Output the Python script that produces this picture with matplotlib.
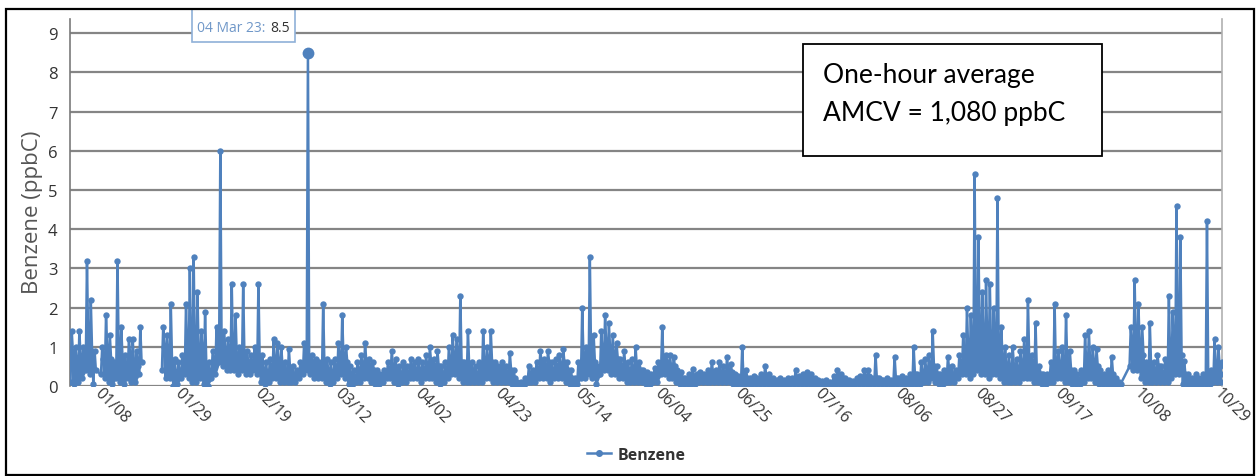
import matplotlib.pyplot as plt
import matplotlib.patches as patches
import numpy as np
import pandas as pd

plt.rcParams['font.family'] = ['Open Sans', 'DejaVu Sans']

# Hourly benzene (ppbC), summarised per day:
# lowest reading, top of the dense band of usual readings, and the day's highest reading.
# None = no data that day.
start_date = '2023-01-01'
daily_low = [
    0.1, 0.05, 0.1, 0.2, 0.4, 0.3, 0.05,
    None, 0.3, 0.2, 0.1, 0.05, 0.2, 0.1,
    0.05, 0.2, 0.1, 0.1, 0.3, None, None,
    None, None, None, 0.4, 0.2, 0.2, 0.0,
    0.05, 0.2, 0.3, 0.2, 0.1, 0.1, 0.2,
    0.05, 0.0, 0.2, 0.3, 0.6, 0.5, 0.4,
    0.4, 0.4, 0.3, 0.4, 0.3, 0.3, 0.4,
    0.3, 0.1, 0.05, 0.1, 0.2, 0.2, 0.1,
    0.1, 0.1, 0.1, 0.1, 0.2, 0.3, 0.4,
    0.3, 0.2, 0.2, 0.2, 0.1, 0.05, 0.1,
    0.2, 0.3, 0.2, 0.05, 0.0, 0.1, 0.1,
    0.2, 0.2, 0.1, 0.05, 0.05, 0.1, 0.2,
    0.2, 0.1, 0.05, 0.1, 0.1, 0.2, 0.2,
    0.2, 0.1, 0.2, 0.2, 0.2, 0.1, 0.05,
    0.1, 0.2, 0.3, 0.3, 0.2, 0.1, 0.1,
    0.1, 0.1, 0.1, 0.1, 0.2, 0.2, 0.1,
    0.1, 0.1, 0.1, 0.1, 0.05, 0.0, 0.0,
    0.0, 0.1, 0.1, 0.1, 0.2, 0.2, 0.2,
    0.1, 0.2, 0.2, 0.2, 0.1, 0.05, 0.0,
    0.05, 0.2, 0.2, 0.3, 0.2, 0.05, 0.3,
    0.4, 0.4, 0.3, 0.3, 0.2, 0.2, 0.1,
    0.1, 0.1, 0.1, 0.1, 0.05, 0.05, 0.1,
    0.1, 0.3, 0.3, 0.2, 0.2, 0.1, 0.05,
    0.05, 0.05, 0.05, 0.05, 0.1, 0.1, 0.1,
    0.1, 0.1, 0.1, 0.1, 0.1, 0.1, 0.05,
    0.05, 0.05, 0.05, 0.05, 0.05, 0.05, 0.05,
    0.05, 0.05, 0.02, 0.02, 0.02, 0.02, 0.05,
    0.05, 0.05, 0.05, 0.05, 0.05, 0.05, 0.02,
    0.02, 0.02, 0.02, 0.02, 0.02, 0.05, 0.05,
    0.02, 0.02, 0.02, 0.05, 0.05, 0.05, 0.05,
    0.05, 0.05, 0.05, 0.05, 0.05, 0.05, 0.05,
    0.05, 0.05, 0.05, 0.05, 0.05, 0.05, 0.05,
    0.1, 0.1, 0.2, 0.1, 0.05, 0.05, 0.1,
    0.1, 0.1, 0.2, 0.3, 0.3, 0.2, 0.3,
    0.4, 0.3, 0.3, 0.2, 0.3, 0.3, 0.2,
    0.1, 0.1, 0.1, 0.1, 0.1, 0.2, 0.2,
    0.2, 0.1, 0.1, 0.05, 0.05, 0.1, 0.1,
    0.2, 0.2, 0.1, 0.1, 0.05, 0.05, 0.05,
    0.1, 0.2, 0.2, 0.1, 0.05, 0.05, 0.05,
    0.05, 0.02, 0.0, None, None, 0.5, 0.4,
    0.4, 0.2, 0.1, 0.1, 0.1, 0.1, 0.1,
    0.1, 0.1, 0.2, 0.3, 0.3, 0.05, 0.05,
    0.02, 0.05, 0.02, 0.05, 0.05, 0.05, 0.1,
    0.1, 0.1,
]
daily_band = [
    0.8, 0.6, 0.7, 0.6, 1.0, 0.9, 0.4,
    None, 0.7, 0.9, 0.7, 0.3, 0.8, 0.7,
    0.4, 0.8, 0.6, 0.5, 0.6, None, None,
    None, None, None, 1.0, 0.8, 0.6, 0.3,
    0.3, 0.6, 0.7, 0.7, 0.6, 0.7, 0.9,
    0.5, 0.2, 0.6, 0.9, 1.1, 0.9, 0.8,
    0.8, 0.7, 0.6, 0.7, 0.6, 0.6, 0.7,
    0.7, 0.4, 0.3, 0.4, 0.6, 0.6, 0.5,
    0.3, 0.4, 0.3, 0.3, 0.4, 0.6, 0.6,
    0.6, 0.5, 0.4, 0.5, 0.4, 0.3, 0.4,
    0.6, 0.7, 0.6, 0.3, 0.2, 0.4, 0.5,
    0.6, 0.5, 0.4, 0.2, 0.2, 0.3, 0.4,
    0.5, 0.4, 0.3, 0.4, 0.3, 0.5, 0.4,
    0.4, 0.4, 0.5, 0.6, 0.5, 0.5, 0.3,
    0.4, 0.6, 0.7, 0.7, 0.6, 0.4, 0.5,
    0.4, 0.3, 0.4, 0.5, 0.6, 0.6, 0.4,
    0.4, 0.4, 0.3, 0.4, 0.2, 0.05, 0.05,
    0.1, 0.3, 0.3, 0.4, 0.6, 0.5, 0.6,
    0.4, 0.5, 0.5, 0.6, 0.4, 0.2, 0.1,
    0.4, 0.7, 0.6, 0.7, 0.6, 0.3, 0.8,
    1.0, 0.9, 0.8, 0.7, 0.5, 0.5, 0.4,
    0.4, 0.5, 0.4, 0.3, 0.2, 0.2, 0.3,
    0.4, 0.6, 0.6, 0.5, 0.5, 0.3, 0.2,
    0.15, 0.2, 0.25, 0.2, 0.25, 0.2, 0.25,
    0.35, 0.3, 0.35, 0.3, 0.4, 0.35, 0.2,
    0.15, 0.2, 0.2, 0.15, 0.15, 0.15, 0.2,
    0.25, 0.2, 0.12, 0.1, 0.12, 0.1, 0.15,
    0.15, 0.2, 0.15, 0.2, 0.2, 0.2, 0.12,
    0.1, 0.08, 0.1, 0.08, 0.15, 0.2, 0.2,
    0.15, 0.1, 0.08, 0.12, 0.15, 0.25, 0.25,
    0.15, 0.2, 0.15, 0.1, 0.12, 0.1, 0.2,
    0.15, 0.15, 0.15, 0.2, 0.3, 0.2, 0.3,
    0.4, 0.4, 0.5, 0.3, 0.2, 0.25, 0.4,
    0.3, 0.3, 0.5, 0.7, 0.8, 0.8, 1.0,
    1.1, 1.0, 1.0, 0.9, 0.8, 0.9, 0.7,
    0.5, 0.4, 0.5, 0.4, 0.5, 0.6, 0.7,
    0.5, 0.4, 0.3, 0.2, 0.2, 0.4, 0.4,
    0.5, 0.5, 0.5, 0.4, 0.2, 0.15, 0.2,
    0.5, 0.6, 0.6, 0.5, 0.2, 0.15, 0.2,
    0.3, 0.1, 0.05, None, None, 1.0, 1.1,
    1.0, 0.8, 0.4, 0.5, 0.4, 0.5, 0.3,
    0.4, 0.6, 0.8, 0.9, 0.8, 0.3, 0.2,
    0.1, 0.15, 0.1, 0.15, 0.2, 0.2, 0.4,
    0.5, 0.3,
]
daily_high = [
    1.4, 1.0, 1.4, 1.0, 3.2, 2.2, 0.9,
    None, 1.0, 1.8, 1.3, 0.6, 3.2, 1.5,
    0.8, 1.2, 1.2, 0.9, 1.5, None, None,
    None, None, None, 1.5, 1.3, 2.1, 0.7,
    0.6, 0.8, 2.1, 3.0, 3.3, 2.4, 1.4,
    1.9, 0.6, 0.9, 1.5, 6.0, 1.4, 1.2,
    2.6, 1.8, 1.0, 2.6, 0.9, 0.8, 1.0,
    2.6, 0.8, 0.6, 0.7, 1.2, 1.1, 1.0,
    0.6, 0.95, 0.5, 0.4, 0.6, 1.1, 8.5,
    0.8, 0.7, 0.6, 2.1, 0.7, 0.6, 0.7,
    1.1, 1.8, 1.0, 0.5, 0.4, 0.6, 0.8,
    1.1, 0.7, 0.6, 0.4, 0.3, 0.4, 0.6,
    0.9, 0.7, 0.5, 0.6, 0.5, 0.7, 0.6,
    0.7, 0.6, 0.8, 1.0, 0.7, 0.9, 0.5,
    0.6, 1.0, 1.3, 1.2, 2.3, 0.6, 1.4,
    0.6, 0.5, 0.6, 1.4, 1.0, 1.4, 0.6,
    0.5, 0.6, 0.5, 0.85, 0.4, 0.1, 0.1,
    0.2, 0.5, 0.4, 0.6, 0.9, 0.7, 0.9,
    0.6, 0.7, 0.8, 0.95, 0.6, 0.4, 0.2,
    0.6, 2.0, 1.0, 3.3, 1.3, 0.5, 1.4,
    1.8, 1.6, 1.3, 1.1, 0.7, 0.9, 0.6,
    0.7, 1.0, 0.6, 0.4, 0.35, 0.3, 0.45,
    0.6, 1.5, 0.8, 0.8, 0.75, 0.4, 0.35,
    0.2, 0.3, 0.43, 0.3, 0.35, 0.3, 0.4,
    0.62, 0.4, 0.6, 0.5, 0.75, 0.55, 0.3,
    0.25, 1.0, 0.4, 0.2, 0.25, 0.2, 0.3,
    0.52, 0.3, 0.2, 0.15, 0.2, 0.15, 0.2,
    0.2, 0.4, 0.25, 0.3, 0.35, 0.3, 0.2,
    0.15, 0.12, 0.15, 0.1, 0.25, 0.4, 0.3,
    0.2, 0.15, 0.12, 0.2, 0.25, 0.4, 0.4,
    0.2, 0.8, 0.2, 0.15, 0.2, 0.15, 0.75,
    0.2, 0.25, 0.2, 0.3, 1.0, 0.3, 0.6,
    0.7, 0.8, 1.4, 0.5, 0.3, 0.4, 0.75,
    0.5, 0.4, 0.8, 1.3, 2.0, 1.8, 5.4,
    3.8, 2.4, 2.7, 2.6, 2.0, 4.8, 1.5,
    1.0, 0.8, 1.0, 0.7, 0.9, 1.2, 2.2,
    0.8, 1.6, 0.5, 0.3, 0.3, 0.6, 2.1,
    0.9, 1.0, 1.8, 0.9, 0.4, 0.3, 0.4,
    1.3, 1.4, 1.0, 0.95, 0.4, 0.3, 0.4,
    0.75, 0.2, 0.1, None, None, 1.5, 2.7,
    2.1, 1.5, 0.6, 1.6, 0.6, 0.8, 0.5,
    0.7, 2.3, 1.9, 4.6, 3.8, 0.65, 0.3,
    0.2, 0.3, 0.2, 0.3, 4.2, 0.4, 1.2,
    1.0, 0.6,
]
tick_labels = ['01/08', '01/29', '02/19', '03/12', '04/02', '04/23', '05/14',
               '06/04', '06/25', '07/16', '08/06', '08/27', '09/17', '10/08', '10/29']
series_name = 'Benzene'
note_lines = ['One-hour average', 'AMCV = 1,080 ppbC']

blue = '#4f81bd'

# Build the hourly-looking path: low early, high midday, band top in the evening
days = pd.date_range(start_date, periods=len(daily_high), freq='D')
times, values = [], []
last = None
for day, lo, mid, hi in zip(days, daily_low, daily_band, daily_high):
    if hi is None:
        continue
    # long stretches with no data break the line, shorter ones are joined
    if last is not None and (day - last).days > 4:
        times.append(last + pd.Timedelta(days=1))
        values.append(np.nan)
    times += [day + pd.Timedelta(hours=3), day + pd.Timedelta(hours=11), day + pd.Timedelta(hours=19)]
    values += [lo, hi, mid]
    last = day
times = pd.to_datetime(times)
values = np.array(values, dtype=float)

band_lo = np.array([np.nan if v is None else v for v in daily_low])
band_hi = np.array([np.nan if v is None else v for v in daily_band])

W, H = 1257, 477
fig = plt.figure(figsize=(W / 100, H / 100), dpi=100)
ax = fig.add_axes([70 / W, 90 / H, 1152 / W, 367 / H])

# the dense run of hourly readings shows as a solid band
ax.fill_between(days + pd.Timedelta(hours=12), band_lo, band_hi, color=blue, lw=0, zorder=2)
line, = ax.plot(times, values, color=blue, lw=1.8, marker='o', ms=4.6, mew=0,
                solid_joinstyle='round', label=series_name, zorder=3)

# hovered point
ipk = np.nanargmax(values)
ax.plot(times[ipk], values[ipk], 'o', color=blue, ms=8.5, mew=0, zorder=4)

ax.set_ylim(0, 9.36)
ax.set_yticks(range(0, 10))
ax.set_xlim(pd.Timestamp(start_date), pd.Timestamp(start_date) + pd.Timedelta(days=302.4))
ax.set_xticks(pd.to_datetime(['2023/' + t for t in tick_labels]))
ax.set_xticklabels(tick_labels)
ax.grid(axis='y', color='#858585', lw=1.6, zorder=1)
ax.tick_params(axis='y', length=0, pad=9, labelsize=12, labelcolor='#333333')
ax.tick_params(axis='x', length=0, pad=3, labelsize=11.5, labelcolor='#333333')
for lab in ax.get_xticklabels():
    lab.set_rotation(-45)
    lab.set_ha('left')
    lab.set_va('center')
    lab.set_rotation_mode('anchor')

for s in ['top', 'bottom']:
    ax.spines[s].set_visible(False)
ax.spines['left'].set_color('#7a7a7a')
ax.spines['left'].set_linewidth(1.2)
ax.spines['right'].set_color('#b0b0b0')
ax.spines['right'].set_linewidth(1.2)

fig.text(33 / W, 1 - 212 / H, 'Benzene (ppbC)', rotation=90, ha='center', va='center',
         fontsize=16, color='#555555')

# legend
fig.legend(handles=[line], loc='center', bbox_to_anchor=(636 / W, 1 - 456 / H), frameon=False,
           prop={'size': 11.5, 'weight': 'bold'}, labelcolor='#333333', handlelength=1.5,
           handletextpad=0.4, markerscale=1.1)

# tooltip
fig.add_artist(patches.Rectangle((192 / W, 1 - 43 / H), 103 / W, 33 / H, transform=fig.transFigure,
                                 facecolor='white', edgecolor='#8fb0d8', lw=1.2, zorder=5))
fig.text(197 / W, 1 - 28 / H, times[ipk].strftime('%d %b %y') + ':', ha='left', va='center',
         fontsize=10, color='#6f97c8', zorder=6)
fig.text(270 / W, 1 - 28 / H, f'{values[ipk]:.1f}', ha='left', va='center',
         fontsize=10, color='#333333', zorder=6)

# AMCV note box
fig.add_artist(patches.Rectangle((803 / W, 1 - 157 / H), 299 / W, 112 / H, transform=fig.transFigure,
                                 facecolor='white', edgecolor='black', lw=1.3, zorder=5))
fig.text(823 / W, 1 - 76 / H, note_lines[0], ha='left', va='center', fontsize=19,
         family=['Lato', 'DejaVu Sans'], color='black', zorder=6)
fig.text(823 / W, 1 - 113 / H, note_lines[1], ha='left', va='center', fontsize=19,
         family=['Lato', 'DejaVu Sans'], color='black', zorder=6)

# outer frame
fig.add_artist(patches.Rectangle((6 / W, 1.5 / H), 1248 / W, 466 / H, transform=fig.transFigure,
                                 facecolor='none', edgecolor='black', lw=1.6, zorder=7))

fig.savefig('out.png', dpi=100)
